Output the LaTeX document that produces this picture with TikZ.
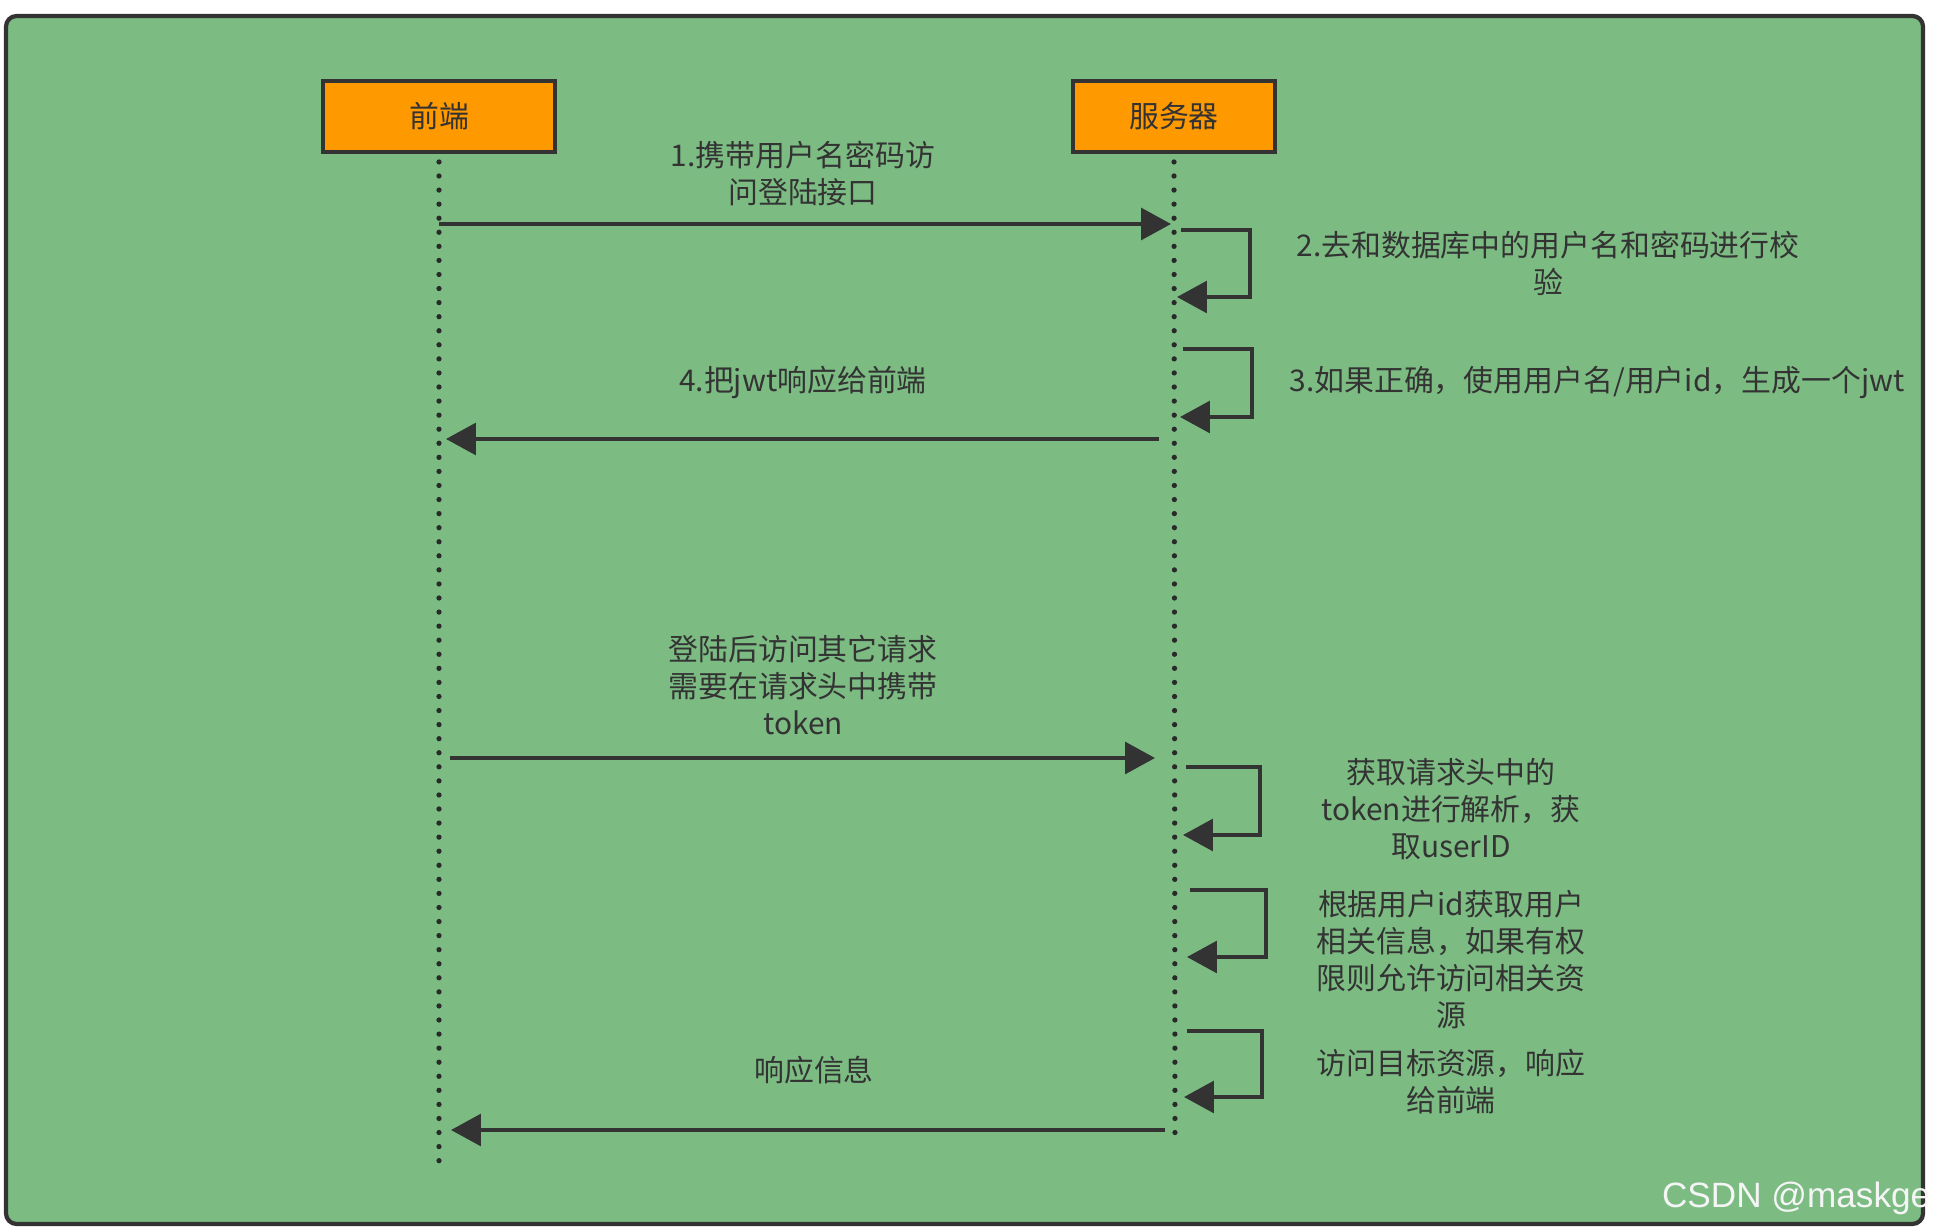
\documentclass[tikz,border=0pt]{standalone}
\usepackage{fontspec}
\newfontfamily\cjk{Noto Sans CJK SC}
\newfontfamily\wmfont{Liberation Sans}
\usetikzlibrary{arrows.meta}

\definecolor{panelgreen}{RGB}{124,188,131}
\definecolor{boxorange}{RGB}{255,153,0}
\definecolor{inkgray}{RGB}{51,51,51}

\tikzset{
    actor/.style={draw=inkgray, fill=boxorange, line width=1.1pt, minimum height=0.71cm,
        font=\cjk\fontsize{8.5}{10.5}\selectfont, text=inkgray},
    lifeline/.style={inkgray!80!black, line width=1.5pt, dash pattern=on 0pt off 4pt, line cap=round},
    msg/.style={inkgray, line width=1.1pt, -{Triangle[length=8.5pt,width=9pt]}},
    note/.style={align=center, text=inkgray, inner sep=0pt, font=\cjk\fontsize{8.5}{10.5}\selectfont},
}

\begin{document}
\begin{tikzpicture}[x=0.01cm, y=-0.01cm]
    \useasboundingbox (0,0) rectangle (1933,1231);
    \fill[white] (0,0) rectangle (1933,1231);

    % Khung nền màu xanh
    \draw[line width=1.2pt, draw=inkgray, fill=panelgreen, rounded corners=3pt] (6,16) rectangle (1923,1224);

    % Hai đối tượng
    \node[actor, minimum width=2.32cm] (fe) at (439,116.5) {前端};
    \node[actor, minimum width=2.02cm] (sv) at (1174,116.5) {服务器};

    % Đường sống (nét chấm)
    \coordinate (feEnd) at (439,1166);
    \coordinate (svEnd) at (1175,1142);
    \draw[lifeline] (fe.south) ++(0,8) -- (feEnd);
    \draw[lifeline] (sv.south) ++(0,8) -- (svEnd);

    % Các điểm đầu/cuối của thông điệp
    \coordinate (m1s) at (439,224);
    \coordinate (m1e) at (1171,224);
    \coordinate (m4s) at (1159,439);
    \coordinate (m4e) at (446,439);
    \coordinate (m5s) at (450,758);
    \coordinate (m5e) at (1155,758);
    \coordinate (m9s) at (1165,1130);
    \coordinate (m9e) at (451,1130);

    % Thông điệp giữa hai bên
    \draw[msg] (m1s) -- (m1e);
    \draw[msg] (m4s) -- (m4e);
    \draw[msg] (m5s) -- (m5e);
    \draw[msg] (m9s) -- (m9e);

    % Tự gọi ở phía máy chủ
    \foreach \n/\xs/\ys/\xr/\xe/\ye in {2/1181/230/1250/1177/297, 3/1183/349/1252/1180/417,
        6/1186/767/1260/1183/835, 7/1190/890/1266/1187/957, 8/1187/1031/1262/1184/1097} {
        \coordinate (l\n s) at (\xs,\ys);
        \coordinate (l\n e) at (\xe,\ye);
        \draw[msg] (l\n s) -- (\xr,\ys) |- (l\n e);
    }

    % Nhãn
    \node[note] (t1) at (803,173.5) {1.携带用户名密码访\\问登陆接口};
    \node[note] (t2) at (1548,263) {2.去和数据库中的用户名和密码进行校\\验};
    \node[note] (t3) at (1597,382) {3.如果正确，使用用户名/用户id，生成一个jwt};
    \node[note] (t4) at (803,382) {4.把jwt响应给前端};
    \node[note] (t5) at (803,685) {登陆后访问其它请求\\需要在请求头中携带\\token};
    \node[note] (t6) at (1451,809) {获取请求头中的\\token进行解析，获\\取userID};
    \node[note] (t7) at (1451,959.5) {根据用户id获取用户\\相关信息，如果有权\\限则允许访问相关资\\源};
    \node[note] (t8) at (1451,1082) {访问目标资源，响应\\给前端};
    \node[note] (t9) at (814,1070) {响应信息};

    % Hình mờ
    \node[anchor=east, inner sep=0pt, text=white!92!gray, font=\wmfont\fontsize{10}{12}\selectfont] (wm) at (1931,1198) {CSDN @maskge};

\end{tikzpicture}
\end{document}
